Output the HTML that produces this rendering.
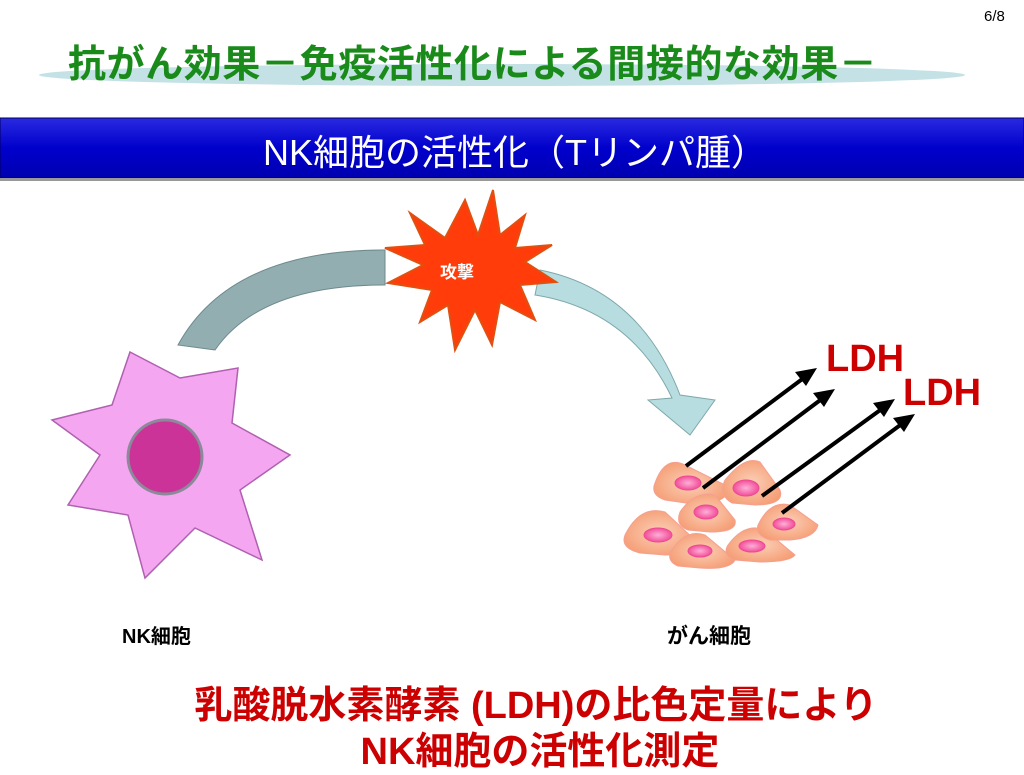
<!DOCTYPE html>
<html><head><meta charset="utf-8"><style>
body{margin:0;width:1024px;height:768px;background:#fff;position:relative;overflow:hidden;font-family:"Liberation Sans","Noto Sans CJK JP",sans-serif}
.a{position:absolute;white-space:nowrap}
</style></head><body>
<svg class="a" style="left:0;top:0" width="1024" height="768">
<defs>
<radialGradient id="cg" cx="50%" cy="50%" r="60%"><stop offset="0" stop-color="#fbd0b8"/><stop offset="1" stop-color="#f59a70"/></radialGradient>
<radialGradient id="ng" cx="50%" cy="50%" r="60%"><stop offset="0" stop-color="#ffb0d8"/><stop offset="1" stop-color="#ee3a8c"/></radialGradient>
<linearGradient id="bb" x1="0" y1="0" x2="0" y2="1"><stop offset="0" stop-color="#2a2ae0"/><stop offset="0.5" stop-color="#0000cc"/><stop offset="1" stop-color="#0000b0"/></linearGradient>
</defs>
<ellipse cx="502" cy="75" rx="463" ry="11" fill="#c4e2e6"/>
<rect x="0" y="118" width="1024" height="60" fill="url(#bb)" stroke="#000060"/>
<rect x="0" y="178" width="1024" height="3" fill="#999"/>
<path d="M178,345 Q230,250 385,250 L385,285 Q260,285 215,350 Z" fill="#93aeb0" stroke="#6d8a8c"/>
<path d="M540,270 Q640,290 680,395 L715,400 L690,435 L648,400 L672,398 Q630,310 535,295 Z" fill="#b7dde0" stroke="#7fa8aa"/>
<polygon fill="#ff3c0a" stroke="#e05010" stroke-width="2" points="465,200 478,235 493,190 500,235 525,215 515,248 552,245 525,262 556,282 520,285 535,320 500,302 492,345 475,310 455,350 448,305 420,322 432,290 388,283 423,265 385,248 425,245 410,213 445,238"/>
<polygon fill="#f5a6f0" stroke="#b060b0" stroke-width="1.5" points="130,352 180,378 238,368 232,423 290,455 240,490 262,560 195,528 145,578 128,515 68,505 100,455 52,420 112,405"/>
<circle cx="165" cy="457" r="37" fill="#cc3399" stroke="#8a8a9a" stroke-width="3"/>
<g stroke="#f5a090" stroke-width="1">
<path d="M655,483 Q665,455 685,465 L725,485 Q735,500 700,505 L665,500 Q650,495 655,483Z" fill="url(#cg)"/>
<path d="M725,480 Q745,455 760,462 L780,490 Q785,505 755,505 L732,503 Q718,495 725,480Z" fill="url(#cg)"/>
<path d="M680,512 Q695,490 715,495 L735,520 Q738,532 710,532 L688,530 Q675,525 680,512Z" fill="url(#cg)"/>
<path d="M625,535 Q640,505 665,512 L695,540 Q695,555 665,555 L640,553 Q620,548 625,535Z" fill="url(#cg)"/>
<path d="M670,553 Q685,528 705,535 L735,560 Q730,570 700,568 L678,566 Q668,562 670,553Z" fill="url(#cg)"/>
<path d="M728,545 Q745,522 765,530 L795,555 Q790,562 760,562 L735,560 Q722,555 728,545Z" fill="url(#cg)"/>
<path d="M758,525 Q770,500 790,505 L818,525 Q815,538 790,540 L770,540 Q755,535 758,525Z" fill="url(#cg)"/>
</g>
<g fill="url(#ng)" stroke="#ee4a90">
<ellipse cx="688" cy="483" rx="13" ry="7"/><ellipse cx="746" cy="488" rx="13" ry="8"/>
<ellipse cx="706" cy="512" rx="12" ry="7"/><ellipse cx="658" cy="535" rx="14" ry="7"/>
<ellipse cx="700" cy="551" rx="12" ry="6"/><ellipse cx="752" cy="546" rx="13" ry="6"/>
<ellipse cx="784" cy="524" rx="11" ry="6"/>
</g>
<g stroke="#000" stroke-width="4" fill="#000">
<line x1="686" y1="466" x2="805" y2="377"/><polygon points="817,368 795,372 806,386" stroke="none"/>
<line x1="703" y1="488" x2="823" y2="398"/><polygon points="835,389 813,393 824,407" stroke="none"/>
<line x1="762" y1="496" x2="883" y2="408"/><polygon points="895,399 873,403 884,417" stroke="none"/>
<line x1="782" y1="513" x2="903" y2="423"/><polygon points="915,414 893,418 904,432" stroke="none"/>
</g>
</svg>
<div class="a" style="left:984px;top:8px;font-size:15px">6/8</div>
<div class="a" style="left:68px;top:33px;font-size:38px;font-weight:bold;color:#1a8a1a;letter-spacing:0.6px">抗がん効果－免疫活性化による間接的な効果－</div>
<div class="a" style="left:0;width:1030px;top:124px;text-align:center;font-size:36px;color:#fff">NK細胞の活性化（Tリンパ腫）</div>
<div class="a" style="left:440px;top:258px;font-size:17px;font-weight:bold;color:#fff">攻撃</div>
<div class="a" style="left:826px;top:338px;font-size:38px;font-weight:bold;color:#cc0000">LDH</div>
<div class="a" style="left:903px;top:372px;font-size:38px;font-weight:bold;color:#cc0000">LDH</div>
<div class="a" style="left:122px;top:620px;font-size:20px;font-weight:bold">NK細胞</div>
<div class="a" style="left:667px;top:620px;font-size:21px;font-weight:bold">がん細胞</div>
<div class="a" style="left:0;width:1072px;top:674px;text-align:center;font-size:38px;font-weight:bold;color:#cc0000">乳酸脱水素酵素 (LDH)の比色定量により</div>
<div class="a" style="left:0;width:1080px;top:720px;text-align:center;font-size:38px;font-weight:bold;color:#cc0000">NK細胞の活性化測定</div>
</body></html>
